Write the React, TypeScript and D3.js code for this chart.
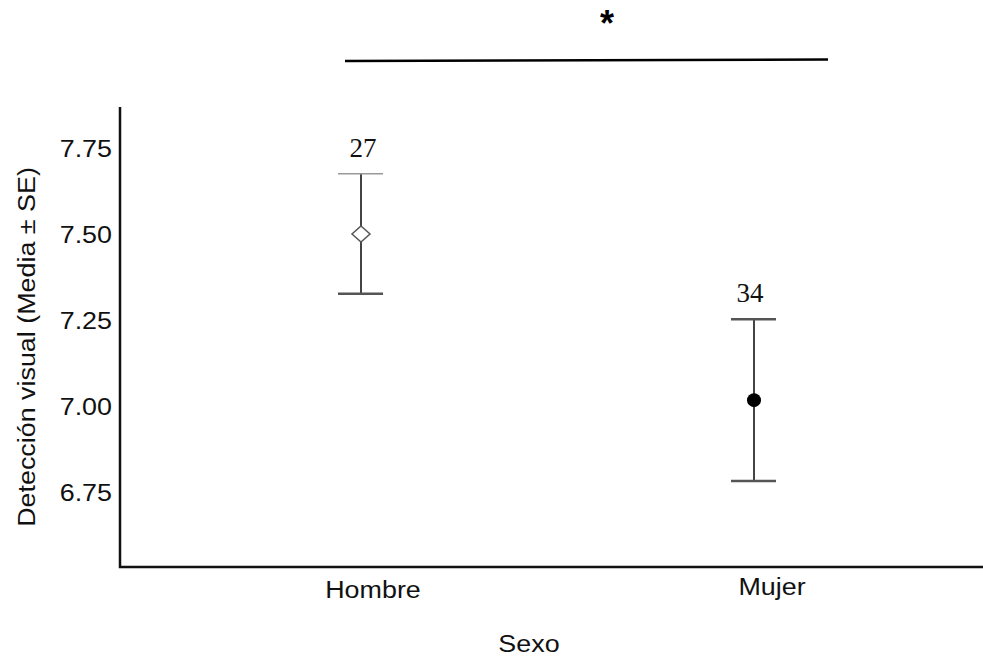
import React, { useEffect, useRef } from 'react';
import * as d3 from 'd3';

const categories = ['Hombre', 'Mujer'];
const means = [7.5, 7.017];
const upper = [7.675, 7.252];
const lower = [7.326, 6.782];
const counts = ['27', '34'];
const yTicks = [6.75, 7.0, 7.25, 7.5, 7.75];

const W = 983;
const H = 660;

export default function App() {
  const ref = useRef<SVGSVGElement>(null);

  useEffect(() => {
    const svg = d3.select(ref.current);
    svg.selectAll('*').remove();

    const sans = 'Liberation Sans, Arial, sans-serif';
    const serif = 'Liberation Serif, Times New Roman, serif';
    const fs = 24;
    const sx = 1.12; // the original lettering is a bit wider than Liberation

    const y = d3.scaleLinear().domain([6.75, 7.75]).range([492, 148]);
    const x = d3.scalePoint<string>().domain(categories).range([361, 754]);

    const axisTop = y(7.869);
    const axisBottom = y(6.532);
    const axisLeft = 120;

    // sans text helper, stretched horizontally
    const label = (g: any, tx: number, ty: number, txt: string, anchor: string, rot = 0) =>
      g.append('text')
        .attr('transform', `translate(${tx},${ty}) rotate(${rot}) scale(${sx},1)`)
        .attr('text-anchor', anchor)
        .attr('font-family', sans)
        .attr('font-size', fs)
        .attr('fill', '#111')
        .text(txt);

    // y tick labels
    const fmt = d3.format('.2f');
    const yg = svg.append('g');
    yTicks.forEach(t => label(yg, 112, y(t) + 9, fmt(t), 'end'));

    // axis lines
    svg.append('path')
      .attr('d', `M${axisLeft},${axisTop}V${axisBottom}H${W}`)
      .attr('fill', 'none')
      .attr('stroke', '#111')
      .attr('stroke-width', 2.5);

    // x labels
    const xg = svg.append('g');
    label(xg, x(categories[0])! + 12, 598, categories[0], 'middle');
    label(xg, x(categories[1])! + 18, 595, categories[1], 'middle');

    label(svg, 529, 652, 'Sexo', 'middle');
    label(svg, 35, 347, 'Detección visual (Media ± SE)', 'middle', -90);

    // error bars
    const bars = svg.append('g');
    categories.forEach((c, i) => {
      const cx = x(c)!;
      bars.append('line')
        .attr('x1', cx).attr('x2', cx)
        .attr('y1', y(upper[i])).attr('y2', y(lower[i]))
        .attr('stroke', '#444').attr('stroke-width', 2);
      [upper[i], lower[i]].forEach((v, k) => {
        const light = i === 0 && k === 0;
        bars.append('line')
          .attr('x1', cx - 23).attr('x2', cx + 22)
          .attr('y1', y(v)).attr('y2', y(v))
          .attr('stroke', light ? '#999' : '#555')
          .attr('stroke-width', light ? 1.5 : 2.5);
      });
      bars.append('text')
        .attr('x', cx + (i === 0 ? 2 : -4))
        .attr('y', y(upper[i]) - 17)
        .attr('text-anchor', 'middle')
        .attr('font-family', serif)
        .attr('font-size', 27)
        .attr('fill', '#111')
        .text(counts[i]);
    });

    // markers
    const hx = x(categories[0])!;
    const hy = y(means[0]);
    svg.append('path')
      .attr('d', `M${hx},${hy - 8}L${hx + 9},${hy}L${hx},${hy + 8}L${hx - 9},${hy}Z`)
      .attr('fill', '#fff')
      .attr('stroke', '#555')
      .attr('stroke-width', 1.5);
    svg.append('circle')
      .attr('cx', x(categories[1])!)
      .attr('cy', y(means[1]))
      .attr('r', 7)
      .attr('fill', '#000');

    // significance bracket
    svg.append('line')
      .attr('x1', 345).attr('x2', 828)
      .attr('y1', 61).attr('y2', 59.5)
      .attr('stroke', '#000').attr('stroke-width', 2.5);
    svg.append('text')
      .attr('x', 607)
      .attr('y', 36)
      .attr('text-anchor', 'middle')
      .attr('font-family', sans)
      .attr('font-weight', 'bold')
      .attr('font-size', 36)
      .attr('fill', '#000')
      .text('*');
  }, []);

  return (
    <svg ref={ref} width={W} height={H} style={{ position: 'absolute', left: 0, top: 0, background: '#fff' }} />
  );
}
